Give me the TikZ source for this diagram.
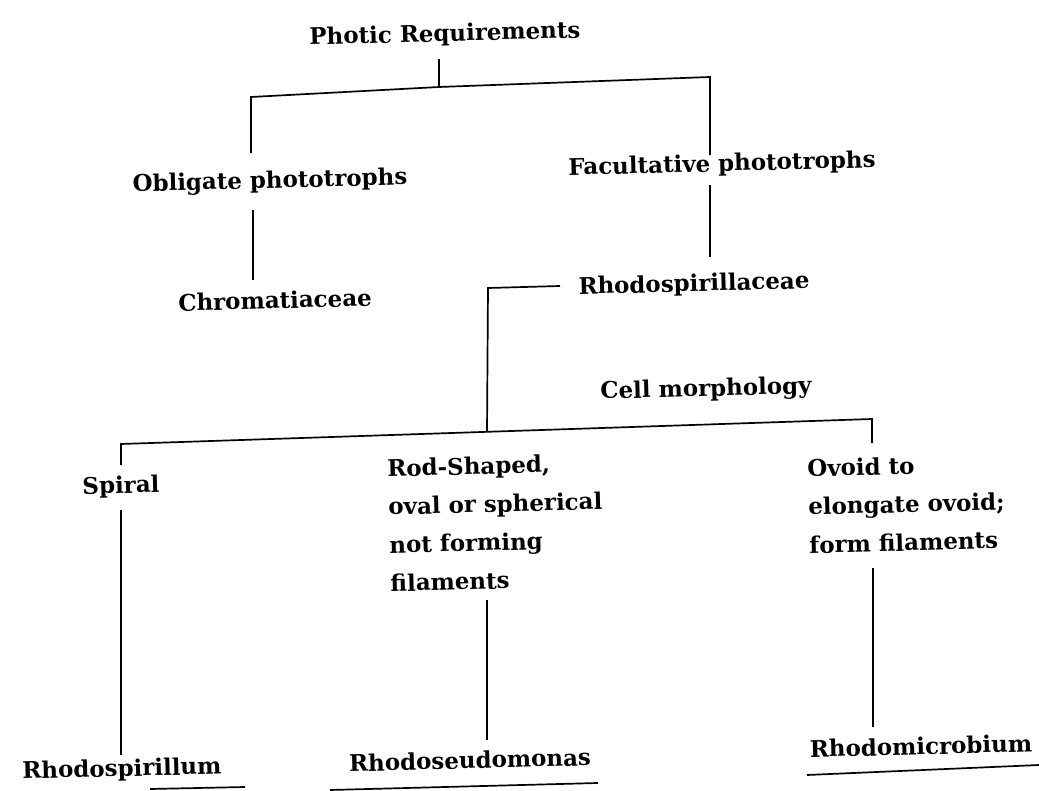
\documentclass[tikz,border=0pt]{standalone}
\usepackage{fontspec}
\setmainfont{DejaVu Serif}
\begin{document}
\begin{tikzpicture}[x=1bp,y=-1bp,
  lbl/.style={font=\fontsize{23}{28}\selectfont\bfseries, inner sep=0pt, rotate=1.5},
  multi/.style={font=\fontsize{23}{38.5}\selectfont\bfseries, inner sep=0pt, rotate=1.5, align=left, anchor=north west},
  ln/.style={line width=1.7bp, black}]
\useasboundingbox (0,0) rectangle (1039,791);
% labels
\node[lbl] (photic) at (445,35) {Photic Requirements};
\node[lbl] (obl) at (270,182) {Obligate phototrophs};
\node[lbl] (fac) at (722,165) {Facultative phototrophs};
\node[lbl] (chrom) at (275,300) {Chromatiaceae};
\node[lbl] (rhodo) at (694,285) {Rhodospirillaceae};
\node[lbl] (cell) at (706,390) {Cell morphology};
\node[lbl] (spiral) at (121,487) {Spiral};
\node[multi] (rod) at (387,459) {Rod-Shaped,\\oval or spherical\\not forming\\filaments};
\node[multi] (ovoid) at (807,459) {Ovoid to\\elongate ovoid;\\form filaments};
\node[lbl] (rsp) at (122,770) {Rhodospirillum};
\node[lbl] (rsm) at (470,760) {Rhodoseudomonas};
\node[lbl] (rmc) at (921,746) {Rhodomicrobium};
% junction coordinates
\coordinate (t0) at (439,59);
\coordinate (t1) at (439,87);
\coordinate (tl) at (251,97);
\coordinate (tr) at (710,77);
\coordinate (tlb) at (251,153);
\coordinate (trb) at (710,155);
\coordinate (o1) at (253,210);
\coordinate (o2) at (253,280);
\coordinate (f1) at (710,185);
\coordinate (f2) at (710,257);
\coordinate (r1) at (560,286);
\coordinate (r2) at (488,288);
\coordinate (r3) at (487,432);
\coordinate (cl) at (121,444);
\coordinate (cr) at (872,419);
\coordinate (clb) at (121,465);
\coordinate (crb) at (872,443);
\coordinate (s1) at (121,510);
\coordinate (s2) at (121,755);
\coordinate (d1) at (487,600);
\coordinate (d2) at (487,740);
\coordinate (v1) at (873,568);
\coordinate (v2) at (873,727);
\coordinate (u1a) at (150,789);
\coordinate (u1b) at (245,787);
\coordinate (u2a) at (330,790);
\coordinate (u2b) at (598,783);
\coordinate (u3a) at (807,775);
\coordinate (u3b) at (1039,765);
% connectors
\draw[ln] (t0) -- (t1);
\draw[ln] (tlb) -- (tl) -- (t1) -- (tr) -- (trb);
\draw[ln] (o1) -- (o2);
\draw[ln] (f1) -- (f2);
\draw[ln] (r1) -- (r2) -- (r3);
\draw[ln] (clb) -- (cl) -- (cr) -- (crb);
\draw[ln] (s1) -- (s2);
\draw[ln] (d1) -- (d2);
\draw[ln] (v1) -- (v2);
\draw[ln] (u1a) -- (u1b);
\draw[ln] (u2a) -- (u2b);
\draw[ln] (u3a) -- (u3b);
\end{tikzpicture}
\end{document}
